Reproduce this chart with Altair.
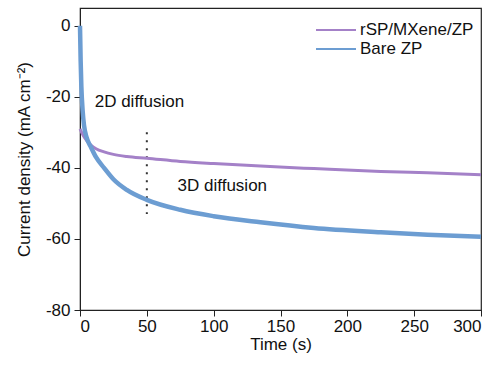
import altair as alt
import pandas as pd

# Bare ZP (blue)
t_bare = [0, 0.5, 1, 2, 3, 5, 8, 12, 18, 25, 35, 50, 75, 100, 135, 175, 225, 260, 300]
j_bare = [0, -10, -17, -24, -28, -31.5, -34, -37, -40, -43.2, -46.2, -49, -51.8, -53.6, -55.3, -56.9, -58.1, -58.8, -59.4]

# rSP/MXene/ZP (purple)
t_rsp = [0, 2, 5, 8, 12, 18, 25, 35, 50, 75, 100, 135, 175, 225, 260, 300]
j_rsp = [-29, -30.6, -32.3, -33.5, -34.6, -35.5, -36.2, -36.8, -37.3, -38.2, -38.8, -39.5, -40.2, -41, -41.4, -41.9]

series_names = ["rSP/MXene/ZP", "Bare ZP"]
series_colors = ["#a481c8", "#6c9dd2"]

ann_text = ["2D diffusion", "3D diffusion"]
ann_x = [11, 73]
ann_y = [-21.5, -45]

rule_x = [50]
rule_y1 = [-30]
rule_y2 = [-53]

rows = []
for t, j in zip(t_rsp, j_rsp):
    rows.append({"t": t, "j": j, "s": series_names[0]})
for t, j in zip(t_bare, j_bare):
    rows.append({"t": t, "j": j, "s": series_names[1]})
df = pd.DataFrame(rows)

ann = pd.DataFrame({"text": ann_text, "x": ann_x, "y": ann_y})
rule_df = pd.DataFrame({"x": rule_x, "y1": rule_y1, "y2": rule_y2})

xscale = alt.Scale(domain=[0, 300], nice=False, zero=False)
yscale = alt.Scale(domain=[-80, 5], nice=False, zero=False)
minus_expr = "datum.value < 0 ? '-' + abs(datum.value) : '' + datum.value"

color_enc = alt.Color(
    "s:N", scale=alt.Scale(domain=series_names, range=series_colors), sort=series_names,
    legend=alt.Legend(title=None, orient="none", legendX=245, legendY=11,
                      symbolType="M-2,0H2", symbolSize=400, symbolStrokeWidth=2,
                      symbolFillColor="transparent",
                      labelFontSize=17, labelFont="Liberation Sans",
                      labelColor="#111", rowPadding=-3, symbolOffset=0,
                      labelOffset=13, padding=0))

x_enc = alt.X("t:Q", scale=xscale,
              axis=alt.Axis(title="Time (s)", values=[0, 50, 100, 150, 200, 250, 300]))
y_enc = alt.Y("j:Q", scale=yscale,
              axis=alt.Axis(title="Current density (mA cm⁻²)", values=[0, -20, -40, -60, -80],
                            labelExpr=minus_expr))

base = alt.Chart(df).encode(x=x_enc, y=y_enc, color=color_enc, order=alt.Order("t:Q"))

line_rsp = base.transform_filter(alt.datum.s == series_names[0]).mark_line(
    interpolate="monotone", strokeWidth=3)
line_bare = base.transform_filter(alt.datum.s == series_names[1]).mark_line(
    interpolate="monotone", strokeWidth=4.5)

rule = alt.Chart(rule_df).mark_rule(color="#333", strokeWidth=2, strokeDash=[2, 6]).encode(
    x=alt.X("x:Q", scale=xscale), y=alt.Y("y1:Q", scale=yscale), y2="y2:Q"
)

texts = alt.Chart(ann).mark_text(align="left", baseline="middle", fontSize=17,
                                  font="Liberation Sans", color="#111").encode(
    x=alt.X("x:Q", scale=xscale), y=alt.Y("y:Q", scale=yscale), text="text:N"
)

chart = alt.layer(rule, line_rsp, line_bare, texts).properties(
    width=401, height=302,
    autosize=alt.AutoSizeParams(type="none"),
    padding={"left": 80, "top": 8, "right": 18, "bottom": 55},
    background="white",
).configure_view(stroke="#222", strokeWidth=1.2).configure_axis(
    domainColor="#222", tickColor="#222", tickSize=6, grid=False,
    labelFont="Liberation Sans", titleFont="Liberation Sans",
    labelFontSize=17, titleFontSize=17, labelColor="#111", titleColor="#111",
    titleFontWeight="normal", labelPadding=2,
).configure_axisY(titlePadding=12, labelPadding=4).configure_axisX(titlePadding=2)

chart.save("out.html", embed_options={"renderer": "svg", "actions": False})
